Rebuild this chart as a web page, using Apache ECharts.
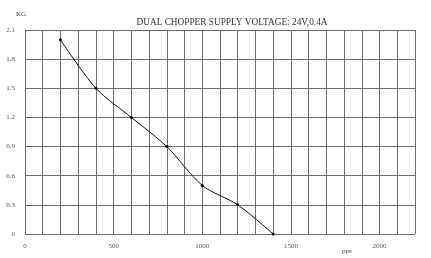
<!DOCTYPE html>
<html><head><meta charset="utf-8">
<script src="https://cdn.jsdelivr.net/npm/echarts@6/dist/echarts.min.js"></script>
<style>html,body{margin:0;padding:0;background:#fff}#c{width:431px;height:258px}</style>
</head><body><div id="c"></div>
<script>
const speedPps = [200, 400, 600, 800, 1000, 1200, 1400];
const torqueKg = [2.0, 1.5, 1.2, 0.9, 0.5, 0.3, 0.0];
const xTickLabels = ['0', '500', '1000', '1500', '2000'];
const yTickLabels = ['0', '0.3', '0.6', '0.9', '1.2', '1.5', '1.8', '2.1'];
const titleText = 'DUAL CHOPPER SUPPLY VOLTAGE: 24V,0.4A';

const chart = echarts.init(document.getElementById('c'));
const serif = 'Liberation Serif';
chart.setOption({
  animation: false,
  backgroundColor: '#fff',
  title: [
    {text: titleText, left: 227, top: 13, textAlign: 'center',
     textStyle: {fontFamily: serif, fontSize: 9.3, fontWeight: 'normal', color: '#333'}},
    {text: 'KG', left: 11, top: 6,
     textStyle: {fontFamily: serif, fontSize: 7, fontWeight: 'normal', color: '#444'}},
    {text: 'pps', left: 337, top: 243,
     textStyle: {fontFamily: serif, fontSize: 7, fontWeight: 'normal', color: '#444'}}
  ],
  grid: {left: 25, right: 16, top: 30, bottom: 24},
  xAxis: {
    type: 'value', min: 0, max: 2200, interval: 100,
    axisLine: {show: false}, axisTick: {show: false},
    splitLine: {show: true, lineStyle: {color: '#6e6e6e', width: 1}},
    axisLabel: {
      fontFamily: serif, fontSize: 7, color: '#555', margin: 9,
      formatter: v => (v % 500 === 0 && xTickLabels.includes(String(v))) ? String(v) : ''
    }
  },
  yAxis: {
    type: 'value', min: 0, max: 2.1, interval: 0.3,
    axisLine: {show: true, lineStyle: {color: '#6e6e6e'}}, axisTick: {show: false},
    splitLine: {show: true, lineStyle: {color: '#6e6e6e', width: 1}},
    axisLabel: {
      fontFamily: serif, fontSize: 7, color: '#555', margin: 10,
      formatter: v => { const s = (Math.round(v * 10) / 10).toString(); return yTickLabels.includes(s) ? s : ''; }
    }
  },
  series: [{
    type: 'line', smooth: 0.3,
    data: speedPps.map((x, i) => [x, torqueKg[i]]),
    symbol: 'circle', symbolSize: 3,
    itemStyle: {color: '#000'},
    lineStyle: {color: '#111', width: 1}
  }]
});
</script></body></html>
